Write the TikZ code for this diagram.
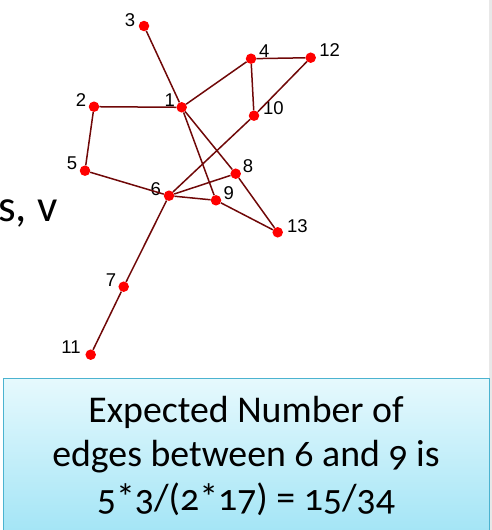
\documentclass[tikz,border=0pt]{standalone}
\usepackage{fontspec}
\setmainfont{Liberation Sans}
\newfontfamily\boxfont[Numbers=OldStyle]{Carlito}
\usetikzlibrary{shadings}
\definecolor{vred}{HTML}{FF0000}
\definecolor{ered}{HTML}{700808}
\definecolor{boxtop}{HTML}{E6F9FD}
\definecolor{boxbot}{HTML}{A4E5F6}
\definecolor{boxline}{HTML}{4BB3D0}
\definecolor{stripgray}{HTML}{E8E8E8}
\begin{document}
\begin{tikzpicture}[x=1pt,y=-1pt,
  vtx/.style={circle, fill=vred, inner sep=0pt, minimum size=10.5pt},
  lbl/.style={inner sep=0pt, font=\fontsize{18.5}{19}\selectfont},
  edgeline/.style={draw=ered, line width=1.5pt},
  notebox/.style={draw=boxline, line width=0.8pt, top color=boxtop, bottom color=boxbot, inner sep=0pt, minimum width=486pt, minimum height=153pt, anchor=north west},
  notetext/.style={inner sep=0pt, align=center, anchor=base, font=\boxfont\fontsize{37.8}{44}\selectfont}
]
\useasboundingbox (0,0) rectangle (492,530);
\fill[stripgray] (489,0) rectangle (492,530);
% background title fragment
\begin{scope}
\clip (0,180) rectangle (80,250);
\node[inner sep=0pt, anchor=base west, font=\boxfont\fontsize{45}{45}\selectfont] (bgtext) at (-2,221) {s, v};
\end{scope}
% vertices
\node[vtx] (n1) at (181.7,107.3) {};
\node[vtx] (n2) at (94,106.7) {};
\node[vtx] (n3) at (144,26) {};
\node[vtx] (n4) at (251,58.7) {};
\node[vtx] (n5) at (85,170.7) {};
\node[vtx] (n6) at (169,195.7) {};
\node[vtx] (n7) at (123.7,286.7) {};
\node[vtx] (n8) at (235.7,173.7) {};
\node[vtx] (n9) at (216,200.3) {};
\node[vtx] (n10) at (254,115.7) {};
\node[vtx] (n11) at (90.7,354.7) {};
\node[vtx] (n12) at (310.7,57.7) {};
\node[vtx] (n13) at (277.7,232.3) {};
% labels
\node[lbl] (l1) at (169.7,100) {1};
\node[lbl] (l2) at (81,100) {2};
\node[lbl] (l3) at (130,19.7) {3};
\node[lbl] (l4) at (264.3,51.2) {4};
\node[lbl] (l5) at (72,162.8) {5};
\node[lbl] (l6) at (155.7,188.8) {6};
\node[lbl] (l7) at (111,279.7) {7};
\node[lbl] (l8) at (248,166.3) {8};
\node[lbl] (l9) at (228.7,193) {9};
\node[lbl] (l10) at (273.3,107.8) {10};
\node[lbl] (l11) at (71,347) {11};
\node[lbl] (l12) at (329.7,49.7) {12};
\node[lbl] (l13) at (297.3,226.3) {13};
% edges
\draw[edgeline] (n1) -- (n2);
\draw[edgeline] (n1) -- (n3);
\draw[edgeline] (n1) -- (n4);
\draw[edgeline] (n1) -- (n8);
\draw[edgeline] (n1) -- (n9);
\draw[edgeline] (n2) -- (n5);
\draw[edgeline] (n5) -- (n6);
\draw[edgeline] (n4) -- (n12);
\draw[edgeline] (n4) -- (n10);
\draw[edgeline] (n12) -- (n10);
\draw[edgeline] (n10) -- (n6);
\draw[edgeline] (n6) -- (n8);
\draw[edgeline] (n6) -- (n9);
\draw[edgeline] (n6) -- (n7);
\draw[edgeline] (n7) -- (n11);
\draw[edgeline] (n8) -- (n13);
\draw[edgeline] (n9) -- (n13);
% note box
\node[notebox] (note) at (3,378) {};
\node[notetext] (notetxt) at (246,510) {Expected Number of\\edges between 6 and 9 is\\5*3/(2*17) = 15/34};
\end{tikzpicture}
\end{document}
